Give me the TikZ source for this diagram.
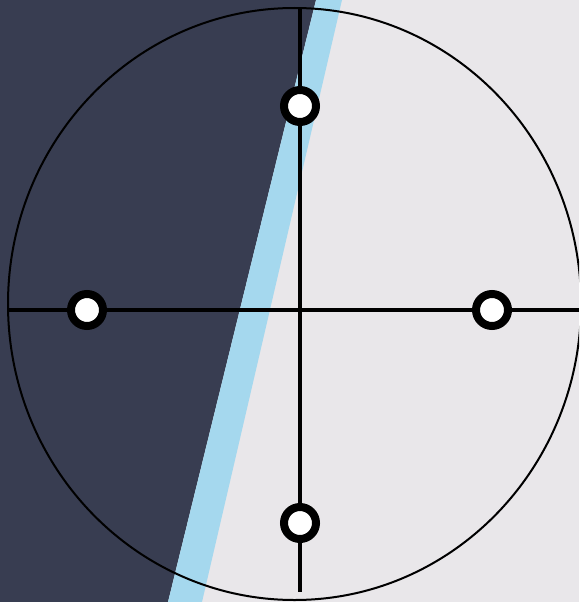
\documentclass[tikz,border=0pt]{standalone}
\begin{document}
\begin{tikzpicture}[x=1pt,y=-1pt,
  marker/.style={circle,draw=black,fill=white,line width=8pt,minimum size=32pt,inner sep=0pt},
  axisline/.style={draw=black,line width=3.2pt},
  rim/.style={draw=black,line width=2pt}]
\definecolor{darkbg}{HTML}{383D51}
\definecolor{bandblue}{HTML}{A5D8EE}
\definecolor{lightbg}{HTML}{E9E7EA}
\useasboundingbox (0,0) rectangle (579,602);
\fill[lightbg] (0,0) rectangle (579,602);
\fill[darkbg] (0,0) -- (316,0) -- (168,602) -- (0,602) -- cycle;
\fill[bandblue] (316,0) -- (342,0) -- (202,602) -- (168,602) -- cycle;
\begin{scope}
\clip (0,0) rectangle (579,602);
\draw[rim] (294.5,304) ellipse [x radius=286.5, y radius=296];
\end{scope}
\coordinate (hl) at (8,310);
\coordinate (hr) at (579,310);
\coordinate (vt) at (300,8);
\coordinate (vb) at (300,592);
\draw[axisline] (hl) -- (hr);
\draw[axisline] (vt) -- (vb);
\node[marker] (left) at (87,310) {};
\node[marker] (right) at (492,310) {};
\node[marker] (top) at (300,106) {};
\node[marker] (bottom) at (300,523) {};
\end{tikzpicture}
\end{document}
